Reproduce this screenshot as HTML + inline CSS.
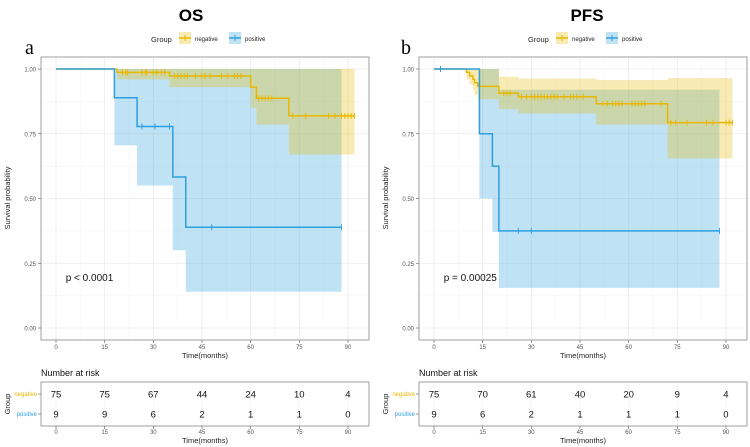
<!DOCTYPE html>
<html><head><meta charset="utf-8">
<style>
html,body{margin:0;padding:0;background:#fff;}
svg{display:block;font-family:"Liberation Sans",sans-serif;}
</style></head>
<body>
<svg id="chart" width="750" height="447" viewBox="0 0 750 447">
<g id="root"></g>
</svg>
<script>
// ---- data ----
const xTicks = [0,15,30,45,60,75,90];
const yTicks = [0,0.25,0.5,0.75,1.0];
const yTickLabels = ["0.00","0.25","0.50","0.75","1.00"];
// OS
const osNegTimes = [0,18.8,35,60,61.8,71.8];
const osNegSurv = [1,0.987,0.973,0.93,0.887,0.819];
const osNegEnd = 92;
const osNegCiTimes = [18.8,35,60,61.8,71.8];
const osNegCiLower = [0.96,0.93,0.85,0.785,0.67];
const osNegCiUpper = [1,1,1,1,1];
const osNegCens = [20.5,21.5,22,26.5,27.5,28,30,31,32.5,33.5,36.5,37.5,38.5,39.5,40.5,43,45,46,47.5,51,53,55,56,57,62.5,63.5,64.5,65.5,66.5,73,77,84,86,88,89,90,91,92];
const osPosTimes = [0,18,25,36,40];
const osPosSurv = [1,0.889,0.778,0.583,0.389];
const osPosEnd = 88;
const osPosCiTimes = [18,25,36,40];
const osPosCiLower = [0.705,0.55,0.30,0.14];
const osPosCiUpper = [1,1,1,1];
const osPosCens = [26.5,30.5,35,48,88];
const osRiskNeg = [75,75,67,44,24,10,4];
const osRiskPos = [9,9,6,2,1,1,0];
// PFS
const pfsNegTimes = [0,10,11,12,12.5,13.5,20,26,50,72];
const pfsNegSurv = [1,0.987,0.973,0.96,0.947,0.933,0.907,0.893,0.866,0.793];
const pfsNegEnd = 92;
const pfsNegCiTimes = [10,11,12,12.5,13.5,20,26,50,72];
const pfsNegCiLower = [0.96,0.94,0.92,0.90,0.883,0.845,0.828,0.785,0.655];
const pfsNegCiUpper = [1,1,1,1,1,0.97,0.963,0.957,0.965];
const pfsNegCens = [21.5,22.5,23.5,27,28.5,30,31,32,33,34,35,36,37,38,40,42,43,44,46,52,53.5,55,56,57,58,61,62,63,64,65,70,73,74.5,78,84,86,90,91,92];
const pfsPosTimes = [0,14,18,20];
const pfsPosSurv = [1,0.75,0.625,0.375];
const pfsPosEnd = 88;
const pfsPosCiTimes = [14,18,20];
const pfsPosCiLower = [0.5,0.37,0.155];
const pfsPosCiUpper = [1,1,0.92];
const pfsPosCens = [2,26,30,88];
const pfsRiskNeg = [75,70,61,40,20,9,4];
const pfsRiskPos = [9,6,2,1,1,1,0];

const NS="http://www.w3.org/2000/svg";
const root=document.getElementById('root');
function el(tag,attrs,parent,text){const e=document.createElementNS(NS,tag);for(const k in attrs)e.setAttribute(k,attrs[k]);if(text!==undefined)e.textContent=text;(parent||root).appendChild(e);return e;}
const YEL="#E7B800",BLU="#2E9FDF";
const yS=v=>328-v*259;

function panel(p){
  const xS=t=>p.x0+t*3.244;
  const g=el('g',{});
  
  
  // title
  const t=el('text',{x:p.titleX,y:21,'text-anchor':'middle','font-size':17,'font-weight':'bold'},g,p.title);
  
  const lt=el('text',{x:p.letterX,y:54,'font-size':20,'font-family':'Liberation Serif,serif'},g,p.letter);
  
  // legend
  const lg=el('g',{},g);
  
  el('text',{x:p.legX,y:42,'font-size':7.5,fill:'#222'},lg,'Group');
  [[YEL,'negative',p.legX+28],[BLU,'positive',p.legX+78]].forEach(([c,l,x])=>{
    const e=el('g',{},lg);
    
    el('rect',{x:x,y:32,width:12,height:12,fill:c,'fill-opacity':0.3},e);
    el('line',{x1:x,x2:x+12,y1:38,y2:38,stroke:c,'stroke-width':1.5},e);
    el('line',{x1:x+6,x2:x+6,y1:35,y2:41,stroke:c,'stroke-width':1},e);
    el('text',{x:x+16,y:41,'font-size':6,fill:'#222'},e,l);
  });
  // plot background grid
  const pg=el('g',{},g);
  
  for(let i=0;i<xTicks.length;i++){
    const x=xS(xTicks[i]);
    el('line',{x1:x,x2:x,y1:57,y2:340,stroke:'#ebebeb','stroke-width':0.8},pg);
    if(i<xTicks.length-1){const xm=xS(xTicks[i]+7.5);el('line',{x1:xm,x2:xm,y1:57,y2:340,stroke:'#f4f4f4','stroke-width':0.5},pg);}
  }
  for(let i=0;i<yTicks.length;i++){
    const y=yS(yTicks[i]);
    el('line',{x1:p.bx0,x2:p.bx1,y1:y,y2:y,stroke:'#ebebeb','stroke-width':0.8},pg);
    if(i<yTicks.length-1){const ym=yS(yTicks[i]+0.125);el('line',{x1:p.bx0,x2:p.bx1,y1:ym,y2:ym,stroke:'#f4f4f4','stroke-width':0.5},pg);}
    el('line',{x1:p.bx0-3,x2:p.bx0,y1:y,y2:y,stroke:'#555','stroke-width':0.6},pg);
    el('text',{x:p.bx0-5,y:y+2.5,'font-size':6,'text-anchor':'end',fill:'#555'},pg,yTickLabels[i]);
  }
  xTicks.forEach(v=>{const x=xS(v);
    el('line',{x1:x,x2:x,y1:340,y2:343,stroke:'#555','stroke-width':0.6},pg);
    el('text',{x:x,y:349,'font-size':6,'text-anchor':'middle',fill:'#555'},pg,String(v));});
  el('text',{x:(p.bx0+p.bx1)/2,y:358,'font-size':7.5,'text-anchor':'middle',fill:'#222'},pg,'Time(months)');
  const yl=el('text',{x:0,y:0,'font-size':7.5,'text-anchor':'middle',fill:'#222',transform:`translate(${p.bx0-31},198) rotate(-90)`},pg,'Survival probability');
  
  // CI ribbons
  function ribbon(times,lo,hi,end,col,name){
    let top=[],bot=[];
    for(let i=0;i<times.length;i++){
      const a=xS(times[i]),b=xS(i<times.length-1?times[i+1]:end);
      top.push(a+','+yS(hi[i]),b+','+yS(hi[i]));
      bot.push(a+','+yS(lo[i]),b+','+yS(lo[i]));
    }
    const pl=el('polygon',{points:top.concat(bot.reverse()).join(' '),fill:col,'fill-opacity':0.3},pg);
    
  }
  ribbon(p.posCiT,p.posCiL,p.posCiU,p.posEnd,BLU,p.name+'-positive-ci');
  ribbon(p.negCiT,p.negCiL,p.negCiU,p.negEnd,YEL,p.name+'-negative-ci');
  function curve(times,surv,end,cens,col,name){
    let d='M'+xS(times[0])+','+yS(surv[0]);
    for(let i=1;i<times.length;i++){d+=' H'+xS(times[i])+' V'+yS(surv[i]);}
    d+=' H'+xS(end);
    const pa=el('path',{d:d,fill:'none',stroke:col,'stroke-width':1.5},pg);
    
    cens.forEach(c=>{let s=surv[0];for(let i=0;i<times.length;i++)if(times[i]<=c)s=surv[i];
      const m=el('line',{x1:xS(c),x2:xS(c),y1:yS(s)-3,y2:yS(s)+3,stroke:col,'stroke-width':1},pg);
      });
  }
  curve(p.negT,p.negS,p.negEnd,p.negC,YEL,p.name+'-negative');
  curve(p.posT,p.posS,p.posEnd,p.posC,BLU,p.name+'-positive');
  el('rect',{x:p.bx0,y:57,width:p.bx1-p.bx0,height:283,fill:'none',stroke:'#888','stroke-width':0.8},pg);
  const pv=el('text',{x:xS(3),y:p.pY,'font-size':10,fill:'#111'},pg,p.pval);
  
  // risk table
  const rt=el('g',{},g);
  
  el('text',{x:p.bx0,y:376,'font-size':9,fill:'#111'},rt,'Number at risk');
  for(let i=0;i<xTicks.length;i++){const x=xS(xTicks[i]);
    el('line',{x1:x,x2:x,y1:382,y2:426,stroke:'#f0f0f0','stroke-width':0.6},rt);}
  el('rect',{x:p.bx0,y:382,width:p.bx1-p.bx0,height:44,fill:'none',stroke:'#888','stroke-width':0.8},rt);
  [[p.riskNeg,394,'negative',YEL],[p.riskPos,414,'positive',BLU]].forEach(([arr,y,l,c])=>{
    el('text',{x:p.bx0-4,y:y+2,'font-size':6,'text-anchor':'end',fill:c},rt,l);
    el('line',{x1:p.bx0-3,x2:p.bx0,y1:y,y2:y,stroke:'#555','stroke-width':0.6},rt);
    arr.forEach((v,i)=>{const tx=el('text',{x:xS(xTicks[i]),y:y+3.5,'font-size':9.5,'text-anchor':'middle',fill:'#111'},rt,String(v));
      });
  });
  xTicks.forEach(v=>{const x=xS(v);
    el('line',{x1:x,x2:x,y1:426,y2:429,stroke:'#555','stroke-width':0.6},rt);
    el('text',{x:x,y:434,'font-size':6,'text-anchor':'middle',fill:'#555'},rt,String(v));});
  el('text',{x:(p.bx0+p.bx1)/2,y:443,'font-size':7.5,'text-anchor':'middle',fill:'#222'},rt,'Time(months)');
  el('text',{x:0,y:0,'font-size':7.5,'text-anchor':'middle',fill:'#222',transform:`translate(${p.bx0-31},404) rotate(-90)`},rt,'Group');
}

panel({name:'os',title:'OS',titleX:191,letter:'a',letterX:25,legX:151,x0:56,bx0:41,bx1:369,pY:281,pval:'p < 0.0001',
  negT:osNegTimes,negS:osNegSurv,negEnd:osNegEnd,negCiT:osNegCiTimes,negCiL:osNegCiLower,negCiU:osNegCiUpper,negC:osNegCens,
  posT:osPosTimes,posS:osPosSurv,posEnd:osPosEnd,posCiT:osPosCiTimes,posCiL:osPosCiLower,posCiU:osPosCiUpper,posC:osPosCens,
  riskNeg:osRiskNeg,riskPos:osRiskPos});
panel({name:'pfs',title:'PFS',titleX:587,letter:'b',letterX:401,legX:528,x0:434,bx0:419,bx1:747,pY:281,pval:'p = 0.00025',
  negT:pfsNegTimes,negS:pfsNegSurv,negEnd:pfsNegEnd,negCiT:pfsNegCiTimes,negCiL:pfsNegCiLower,negCiU:pfsNegCiUpper,negC:pfsNegCens,
  posT:pfsPosTimes,posS:pfsPosSurv,posEnd:pfsPosEnd,posCiT:pfsPosCiTimes,posCiL:pfsPosCiLower,posCiU:pfsPosCiUpper,posC:pfsPosCens,
  riskNeg:pfsRiskNeg,riskPos:pfsRiskPos});
</script>
</body></html>
